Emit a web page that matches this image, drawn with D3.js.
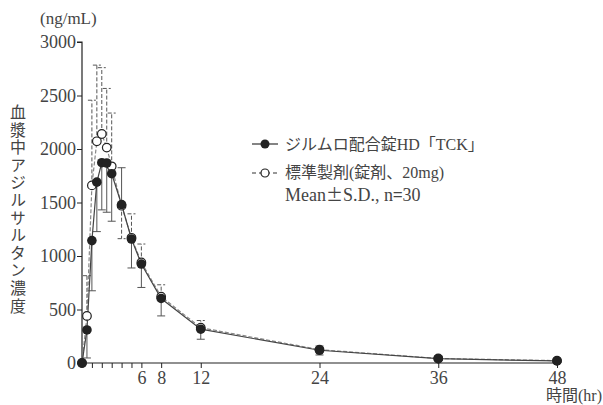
<!DOCTYPE html>
<html>
  <head>
    <meta charset="utf-8">
    <title>血漿中アジルサルタン濃度</title>
    <style>
      body { margin: 0; background: #fff; }
      svg { display: block; }
      .num { font-family: "Liberation Serif", "DejaVu Serif", serif; fill: #444; }
      .jp { font-family: "Liberation Serif", "Noto Sans CJK JP", serif; fill: #444; }
      .cjk { font-family: "Noto Sans CJK JP", sans-serif; font-size: 17px; }
    </style>
    <script src="https://d3js.org/d3.v7.min.js"></script>
  </head>
  <body>
    <svg width="603" height="405"></svg>
    <script>
    // sampling times (hr)
    var times = [0, 0.5, 1, 1.5, 2, 2.5, 3, 4, 5, 6, 8, 12, 24, 36, 48];
    // ジルムロ配合錠HD「TCK」 mean / SD
    var testMean = [0, 309, 1144, 1690, 1872, 1869, 1769, 1481, 1159, 925, 603, 316, 119, 40, 19];
    var testSD   = [0, 262, 469, 462, 441, 460, 444, 344, 271, 219, 163, 94, 44, 10, 5];
    // 標準製剤 mean / SD
    var refMean  = [0, 440, 1660, 2072, 2140, 2013, 1838, 1470, 1170, 940, 620, 330, 125, 42, 22];
    var refSD    = [0, 376, 796, 712, 620, 553, 498, 308, 224, 172, 111, 67, 34, 12, 6];

    var yTicks = [0, 500, 1000, 1500, 2000, 2500, 3000];
    var xTicks = [1, 2, 3, 4, 5, 6, 8, 12, 24, 36, 48];
    var xLabels = [6, 8, 12, 24, 36, 48];

    var svg = d3.select("svg");
    var x = d3.scaleLinear().domain([0, 48]).range([82, 557]);
    var y = d3.scaleLinear().domain([0, 3000]).range([363, 42]);

    // axes
    var yAxis = svg.append("g")
        .attr("transform", "translate(82,0)")
        .call(d3.axisLeft(y).tickValues(yTicks).tickSize(5).tickFormat(d3.format("d")));
    var xAxis = svg.append("g")
        .attr("transform", "translate(0,363)")
        .call(d3.axisBottom(x).tickValues(xTicks).tickSize(5)
          .tickFormat(function(d) { return xLabels.indexOf(d) >= 0 ? d : ""; }));
    [yAxis, xAxis].forEach(function(g) {
      g.select(".domain").attr("stroke", "#222").attr("stroke-width", 1.2);
      g.selectAll(".tick line").attr("stroke", "#222");
      g.selectAll("text").attr("class", "num").style("font-size", "18px").attr("fill", "#444");
    });
    yAxis.select(".domain").attr("d", "M-5,42H0V363");
    yAxis.selectAll("text").attr("x", -6);
    xAxis.select(".domain").attr("d", "M82,0H557");
    xAxis.selectAll("text").attr("y", 8);

    // series
    function rows(mean, sd, other) {
      return times.map(function(t, i) {
        return { t: t, m: mean[i], sd: sd[i], up: mean[i] >= other[i] };
      });
    }
    var test = rows(testMean, testSD, refMean);
    var ref = rows(refMean, refSD, testMean);
    test[0].up = false;

    var line = d3.line().x(function(d) { return x(d.t); }).y(function(d) { return y(d.m); });

    function drawBars(data, dash, color) {
      var g = svg.append("g").attr("stroke", color).attr("stroke-width", 1)
        .attr("stroke-dasharray", dash);
      data.filter(function(d) { return d.sd > 0; }).forEach(function(d) {
        var end = d.up ? d.m + d.sd : d.m - d.sd;
        g.append("line").attr("x1", x(d.t)).attr("x2", x(d.t))
          .attr("y1", y(d.m)).attr("y2", y(end));
        g.append("line").attr("x1", x(d.t) - 4).attr("x2", x(d.t) + 4)
          .attr("y1", y(end)).attr("y2", y(end)).attr("stroke-dasharray", null);
      });
    }

    drawBars(ref, "4,2", "#555");
    drawBars(test, null, "#555");

    svg.append("path").datum(ref).attr("d", line)
      .attr("fill", "none").attr("stroke", "#888").attr("stroke-width", 1.2)
      .attr("stroke-dasharray", "4,2");
    svg.append("path").datum(test).attr("d", line)
      .attr("fill", "none").attr("stroke", "#444").attr("stroke-width", 1.2);

    svg.append("g").selectAll("circle").data(ref).enter().append("circle")
      .attr("cx", function(d) { return x(d.t); }).attr("cy", function(d) { return y(d.m); })
      .attr("r", 4.3).attr("fill", "#fff").attr("stroke", "#222").attr("stroke-width", 1.2);
    svg.append("g").selectAll("circle").data(test).enter().append("circle")
      .attr("cx", function(d) { return x(d.t); }).attr("cy", function(d) { return y(d.m); })
      .attr("r", 4.8).attr("fill", "#222");

    // titles
    svg.append("text").attr("class", "num").attr("x", 40).attr("y", 24)
      .style("font-size", "17px").text("(ng/mL)");
    svg.append("text").attr("class", "jp").attr("x", 18).attr("y", 104)
      .style("writing-mode", "vertical-rl").style("font-size", "16px")
      .style("letter-spacing", "1.6px").style("font-family", "'Noto Sans CJK JP', sans-serif")
      .text("血漿中アジルサルタン濃度");
    svg.append("text").attr("class", "jp").attr("x", 602).attr("y", 401)
      .attr("text-anchor", "end").style("font-size", "16px").text("時間(hr)");

    // legend
    var lg = svg.append("g");
    lg.append("line").attr("x1", 252).attr("x2", 278).attr("y1", 144).attr("y2", 144)
      .attr("stroke", "#333").attr("stroke-width", 1.2);
    lg.append("circle").attr("cx", 265).attr("cy", 144).attr("r", 4.5).attr("fill", "#222");
    lg.append("text").attr("class", "jp").attr("x", 285).attr("y", 150)
      .style("font-size", "16px").text("ジルムロ配合錠HD「TCK」");
    lg.append("line").attr("x1", 252).attr("x2", 278).attr("y1", 173).attr("y2", 173)
      .attr("stroke", "#333").attr("stroke-width", 1.2).attr("stroke-dasharray", "4,3");
    lg.append("circle").attr("cx", 265).attr("cy", 173).attr("r", 4).attr("fill", "#fff")
      .attr("stroke", "#222").attr("stroke-width", 1.2);
    lg.append("text").attr("class", "jp").attr("x", 285).attr("y", 178)
      .style("font-size", "16px").text("標準製剤(錠剤、20mg)");
    var mt = lg.append("text").attr("class", "jp").attr("x", 285).attr("y", 201)
      .style("font-size", "18px");
    mt.append("tspan").text("Mean");
    mt.append("tspan").attr("class", "cjk").text("±");
    mt.append("tspan").text("S.D., n");
    mt.append("tspan").attr("class", "cjk").text("=");
    mt.append("tspan").text("30");
    </script>
  </body>
</html>
